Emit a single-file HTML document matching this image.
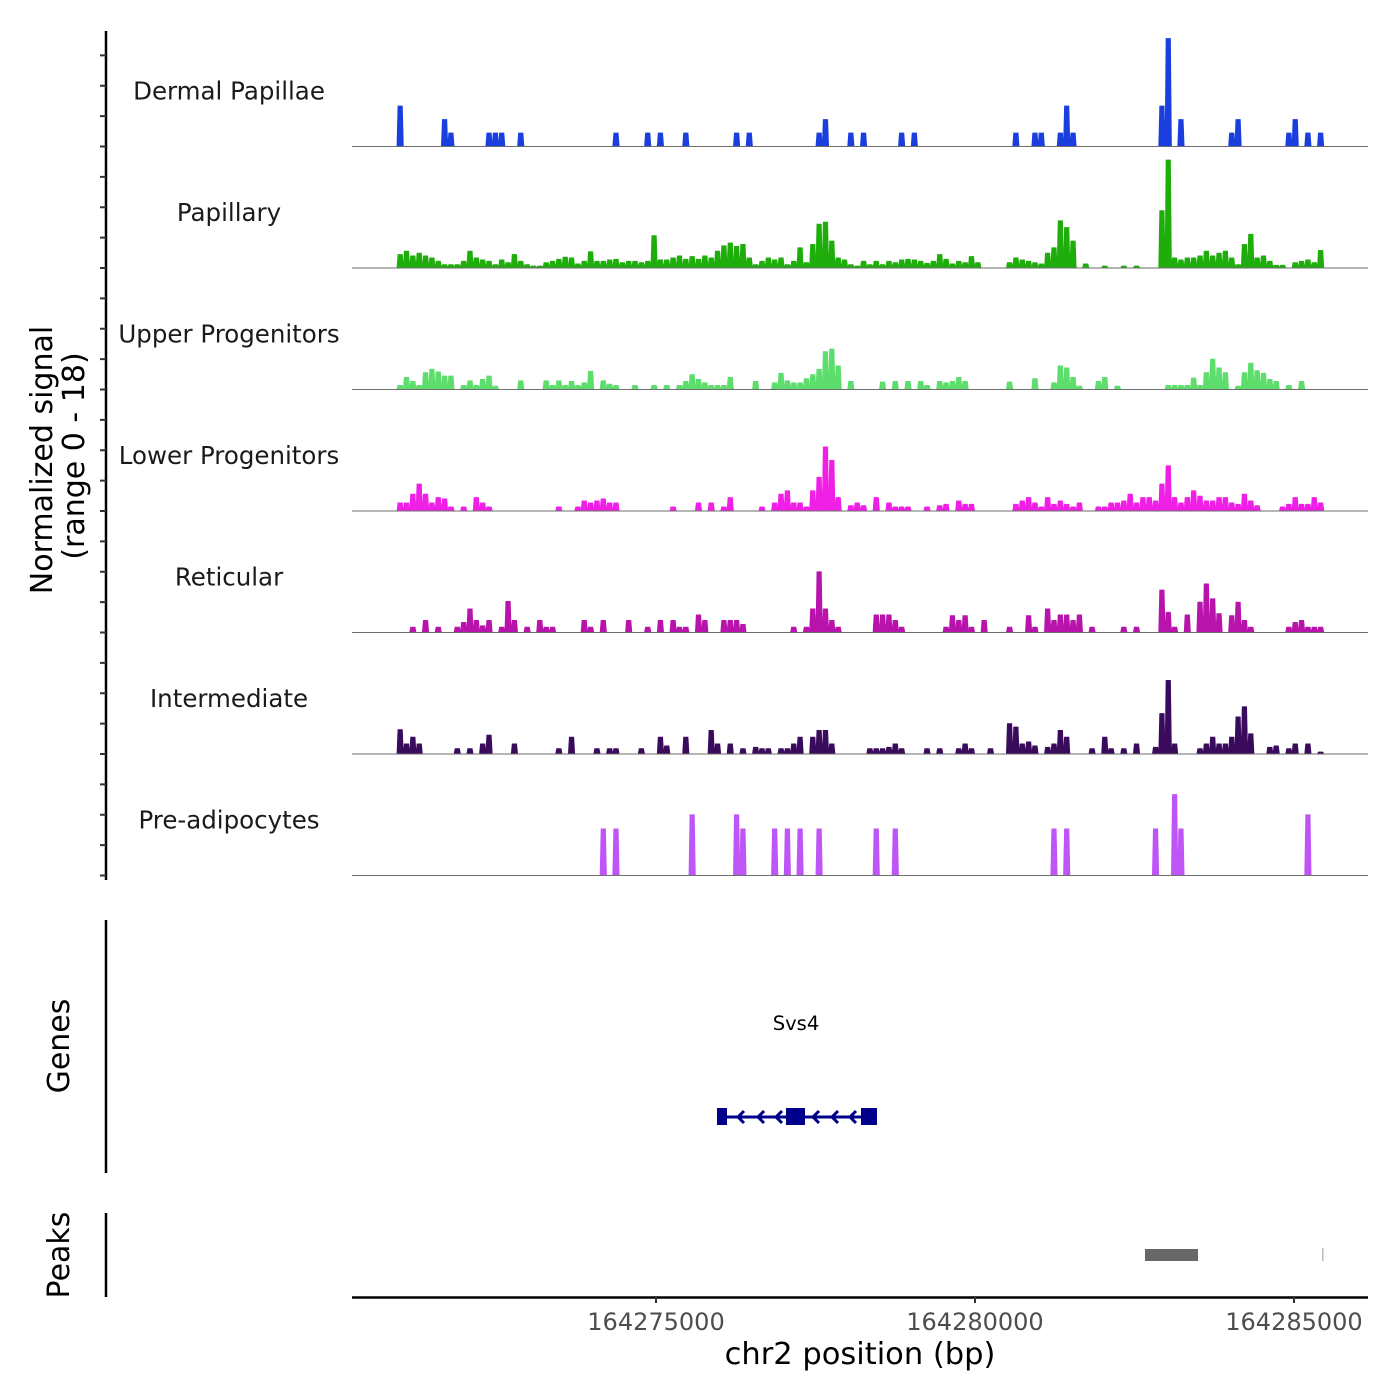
<!DOCTYPE html>
<html><head><meta charset="utf-8"><style>
html,body{margin:0;padding:0;background:#fff;}
svg{display:block;font-family:"DejaVu Sans","Liberation Sans",sans-serif;}
</style></head><body>
<svg id="chart" width="1400" height="1400" viewBox="0 0 1400 1400">
<g id="tracks"></g>
<g id="yaxis"></g>
<text transform="translate(52,460) rotate(-90)" text-anchor="middle" font-size="30" fill="#000">Normalized signal</text>
<text transform="translate(84,456) rotate(-90)" text-anchor="middle" font-size="30" fill="#000">(range 0 - 18)</text>
<line x1="106" y1="920" x2="106" y2="1173" stroke="#000" stroke-width="2.5"/>
<text transform="translate(69,1046) rotate(-90)" text-anchor="middle" font-size="30" fill="#000">Genes</text>
<g>
<text x="796" y="1030" text-anchor="middle" font-size="19.5" fill="#000">Svs4</text>
<line x1="720" y1="1117" x2="872" y2="1117" stroke="#00008b" stroke-width="3"/>
<g fill="none" stroke="#00008b" stroke-width="3">
<polyline points="744,1111 738,1117 744,1123"/><polyline points="764,1111 758,1117 764,1123"/><polyline points="782,1111 776,1117 782,1123"/>
<polyline points="819,1111 813,1117 819,1123"/><polyline points="838,1111 832,1117 838,1123"/><polyline points="856,1111 850,1117 856,1123"/>
</g>
<rect x="717" y="1108" width="10" height="17" fill="#00008b"/>
<rect x="786" y="1108" width="19" height="17" fill="#00008b"/>
<rect x="861" y="1108" width="16" height="17" fill="#00008b"/>
</g>
<line x1="106" y1="1213" x2="106" y2="1297" stroke="#000" stroke-width="2.5"/>
<text transform="translate(69,1255) rotate(-90)" text-anchor="middle" font-size="30" fill="#000">Peaks</text>
<rect x="1145" y="1249" width="53" height="12" fill="#676767"/>
<rect x="1322" y="1248" width="1.5" height="13" fill="#bbb"/>
<g id="xaxis"></g>
<text x="860" y="1364" text-anchor="middle" font-size="30.5" fill="#000">chr2 position (bp)</text>
</svg>
<script>
const startBp = 164270235, endBp = 164286160;
const binStart = 164270940, binSize = 99.5, yMax = 18;
const trackNames = ["Dermal Papillae","Papillary","Upper Progenitors","Lower Progenitors","Reticular","Intermediate","Pre-adipocytes"];
const trackColors = ["#1a3fde","#1fad0c","#5ddd6c","#f01fe6","#b814ab","#3a0b5c","#bf55f6"];
const xTicks = [164275000,164280000,164285000];
const dermal = [[0,6],[7,4],[8,2],[14,2],[15,2],[16,2],[19,2],[34,2],[39,2],[41,2],[45,2],[53,2],[55,2],[66,2],[67,4],[71,2],[73,2],[79,2],[81,2],[97,2],[100,2],[101,2],[104,2],[105,6],[106,2],[120,6],[121,16],[123,4],[131,2],[132,4],[140,2],[141,4],[143,2],[145,2]];
const papillary = [[0,2],[1,2.5],[2,1.8],[3,2.2],[4,1.8],[5,1.5],[6,1],[7,0.5],[8,0.5],[9,0.5],[10,1],[11,2.5],[12,1.5],[13,1.2],[14,1],[15,0.5],[16,1.2],[17,0.8],[18,2],[19,1],[20,0.5],[21,0.3],[22,0.3],[23,0.8],[24,1],[25,1.3],[26,1.6],[27,1.5],[28,0.6],[29,1],[30,2.4],[31,1],[32,1],[33,1.2],[34,1.3],[35,0.8],[36,1],[37,1],[38,0.8],[39,1],[40,4.8],[41,1.2],[42,1.2],[43,1.5],[44,1.8],[45,1.3],[46,1.7],[47,1.3],[48,1.8],[49,1.5],[50,2.5],[51,3.3],[52,3.7],[53,3.2],[54,3.5],[55,1.5],[56,0.5],[57,1],[58,1.5],[59,1.2],[60,1.5],[61,0.5],[62,1],[63,3],[64,0.8],[65,3.5],[66,6.5],[67,6.8],[68,4],[69,1.5],[70,1.2],[71,0.5],[72,0.3],[73,1],[74,0.5],[75,1],[76,0.5],[77,1],[78,0.8],[79,1.2],[80,1.3],[81,1.2],[82,1],[83,0.7],[84,1],[85,2],[86,1.3],[87,0.6],[88,1],[89,0.8],[90,1.7],[91,0.8],[96,0.8],[97,1.5],[98,1.2],[99,1],[100,0.8],[101,0.6],[102,2.2],[103,3],[104,7],[105,6],[106,4],[108,0.6],[111,0.3],[114,0.3],[116,0.3],[120,8.5],[121,16],[122,1.5],[123,1.2],[124,1.5],[125,1.5],[126,1.8],[127,2.5],[128,1.8],[129,2.2],[130,2.5],[131,1.5],[132,0.5],[133,3.5],[134,5],[135,1.5],[136,1.8],[137,1],[138,0.4],[139,0.4],[141,0.8],[142,1],[143,1.2],[144,0.8],[145,2.6]];
const upperProg = [[0,0.6],[1,1.8],[2,1.2],[3,0.6],[4,2.5],[5,3],[6,2.6],[7,2],[8,2],[10,0.6],[11,1.3],[12,0.6],[13,1.5],[14,2],[15,0.5],[19,1.3],[23,1.3],[24,0.6],[25,1.3],[26,0.6],[27,1.2],[28,0.6],[29,1],[30,2.7],[32,1.3],[33,0.8],[34,0.6],[37,0.6],[40,0.6],[42,0.6],[44,0.6],[45,1.2],[46,2.2],[47,1.5],[48,1],[49,0.6],[50,0.6],[51,0.6],[52,1.8],[56,1.2],[59,1],[60,2.4],[61,1.3],[62,1],[63,1],[64,1.6],[65,2.2],[66,3],[67,5.6],[68,6],[69,3.5],[71,1.2],[76,1.1],[78,1.2],[80,1.2],[82,1.2],[83,0.6],[85,1.2],[86,1],[87,1.2],[88,1.8],[89,1.2],[96,1.1],[100,1.6],[103,1],[104,3.5],[105,3.2],[106,1.8],[107,0.5],[110,1.2],[111,1.8],[113,0.5],[121,0.6],[122,0.6],[123,0.6],[124,0.6],[125,1.7],[126,0.6],[127,2.5],[128,4.5],[129,3.2],[130,2.5],[132,0.5],[133,2.5],[134,3.9],[135,2.8],[136,2.4],[137,1.5],[138,1.2],[140,0.6],[142,1.2]];
const lowerProg = [[0,1.2],[1,1.2],[2,2.5],[3,4],[4,2.5],[5,1.2],[6,2],[7,1.8],[8,0.6],[10,0.6],[12,2],[13,1.2],[14,0.6],[25,0.6],[28,0.6],[29,1.5],[30,1.2],[31,1.5],[32,1.8],[33,1.2],[34,1.2],[43,0.6],[47,1.2],[49,1.2],[51,0.6],[52,2],[57,0.6],[59,1.2],[60,2.5],[61,3],[62,1.2],[63,1.2],[64,0.6],[65,3],[66,5],[67,9.5],[68,7.5],[69,2],[71,0.8],[72,1.2],[73,0.8],[75,2],[77,1.2],[78,0.6],[79,0.6],[80,0.6],[83,0.6],[85,0.8],[86,1],[88,1.5],[89,1],[90,1],[97,1],[98,1.5],[99,2],[100,1.2],[101,0.6],[102,2],[103,1],[104,1.5],[105,1],[106,0.6],[107,1.2],[110,0.6],[111,0.6],[112,1.2],[113,1.2],[114,1.5],[115,2.5],[116,1.2],[117,2],[118,2],[119,1.5],[120,4],[121,6.7],[122,2],[123,1.2],[124,2],[125,3],[126,2.2],[127,1.5],[128,1.5],[129,2],[130,2],[131,1.2],[132,1],[133,2.5],[134,1.5],[135,0.8],[139,0.6],[140,1],[141,2],[142,1],[143,1],[144,2],[145,1.2]];
const reticular = [[2,0.8],[4,1.8],[6,0.8],[9,0.8],[10,1.5],[11,3.5],[12,1.8],[13,1],[14,1.8],[16,0.8],[17,4.6],[18,1.8],[20,0.8],[22,1.8],[23,0.8],[24,0.8],[29,1.8],[30,0.8],[32,1.8],[36,1.8],[39,0.8],[41,1.8],[43,1.8],[44,0.8],[45,0.8],[47,2.6],[48,1.8],[51,1.8],[52,1.8],[53,1.8],[54,1.2],[62,0.8],[64,0.8],[65,3.5],[66,9],[67,3.5],[68,1.8],[69,0.8],[75,2.6],[76,2.6],[77,2.6],[78,1.8],[79,0.8],[86,0.8],[87,2.5],[88,1.8],[89,2.5],[90,0.8],[92,1.8],[96,0.8],[99,2.5],[100,0.8],[102,3.5],[103,1.8],[104,2.6],[105,2.6],[106,1.8],[107,2.6],[109,0.8],[114,0.8],[116,0.8],[120,6.3],[121,3],[122,0.8],[124,2.6],[126,4.5],[127,7.2],[128,5],[129,2.8],[131,2.5],[132,4.5],[133,1.8],[134,0.8],[140,0.8],[141,1.5],[142,1.8],[143,0.8],[144,0.8],[145,0.8]];
const intermediate = [[0,3.6],[1,1.5],[2,2.5],[3,1.5],[9,0.8],[11,0.8],[13,1.5],[14,2.8],[18,1.5],[25,0.8],[27,2.5],[31,0.8],[33,0.8],[34,0.8],[38,0.8],[41,2.5],[42,1.2],[45,2.5],[49,3.5],[50,1.5],[52,1.5],[54,0.8],[56,1],[57,0.8],[58,0.8],[60,0.8],[61,0.8],[62,1.5],[63,2.5],[65,2.5],[66,3.5],[67,3.5],[68,1.5],[74,0.8],[75,0.8],[76,0.8],[77,1],[78,1.5],[79,0.8],[83,0.8],[85,0.8],[88,0.8],[89,1.5],[90,0.8],[93,0.8],[96,4.5],[97,4],[98,1.5],[99,1.8],[100,1.2],[102,1],[103,1.5],[104,3.5],[105,2.5],[109,0.8],[111,2.5],[112,0.8],[114,0.8],[116,1.5],[119,1],[120,6],[121,10.9],[122,1.5],[126,0.8],[127,1.5],[128,2.5],[129,1.5],[130,1.5],[131,2.5],[132,5.5],[133,7],[134,3],[137,1],[138,1.2],[140,0.8],[141,1.5],[143,1.5],[145,0.3]];
const preAdipo = [[32,6.9],[34,6.9],[46,9],[53,9],[54,6.9],[59,6.9],[61,6.9],[63,6.9],[66,6.9],[75,6.9],[78,6.9],[103,6.9],[105,6.9],[119,6.9],[122,12],[123,6.9],[143,9]];
const trackData = [dermal,papillary,upperProg,lowerProg,reticular,intermediate,preAdipo];

const NS="http://www.w3.org/2000/svg";
const plotL=352, plotR=1368, trackH=121.5, firstBase=146.5;
function xScale(bp){ return plotL + (bp-startBp)/(endBp-startBp)*(plotR-plotL); }
function yScale(v,k){ return firstBase + k*trackH - v/yMax*trackH; }
function mk(tag,attrs,parent){ const e=document.createElementNS(NS,tag); for(const a in attrs) e.setAttribute(a,attrs[a]); parent.appendChild(e); return e; }

const tracksG=document.getElementById('tracks');
trackData.forEach((data,k)=>{
  const g=mk('g',{},tracksG);
  
  
  const lbl=mk('text',{x:229,y:firstBase+k*trackH-47,'text-anchor':'middle','font-size':'24.5',fill:'#1a1a1a'},g);
  lbl.textContent=trackNames[k];
  
  
  const base=yScale(0,k);
  let d='';
  data.forEach(([b,v])=>{
    const x0=xScale(binStart+b*binSize), x1=xScale(binStart+(b+1)*binSize), y=yScale(v,k);
    d+=`M${x0.toFixed(2)},${base}L${(x0+1).toFixed(2)},${y.toFixed(2)}L${(x1-1).toFixed(2)},${y.toFixed(2)}L${x1.toFixed(2)},${base}Z`;
  });
  const p=mk('path',{d:d,fill:trackColors[k],stroke:trackColors[k],'stroke-width':'0.8'},g);
  
  
  const bl=mk('line',{x1:plotL,x2:plotR,y1:base,y2:base,stroke:'#6e6e6e','stroke-width':'1'},g);
  
  
});

const ya=document.getElementById('yaxis');
const yl=mk('line',{x1:106,x2:106,y1:31,y2:880,stroke:'#000','stroke-width':'2.5'},ya);


for(let y=firstBase+6*trackH; y>=40; y-=trackH/4){
  const t=mk('line',{x1:100,x2:106,y1:y,y2:y,stroke:'#333','stroke-width':'2'},ya);
  
  
}

const xa=document.getElementById('xaxis');
const xl=mk('line',{x1:plotL,x2:plotR,y1:1297.5,y2:1297.5,stroke:'#000','stroke-width':'2.5'},xa);


xTicks.forEach(v=>{
  const x=xScale(v);
  const t=mk('line',{x1:x,x2:x,y1:1297,y2:1303,stroke:'#333','stroke-width':'2'},xa);
  
  
  const l=mk('text',{x:x,y:1330,'text-anchor':'middle','font-size':'24',fill:'#4d4d4d'},xa);
  l.textContent=String(v);
  
  
});
</script>
</body></html>
